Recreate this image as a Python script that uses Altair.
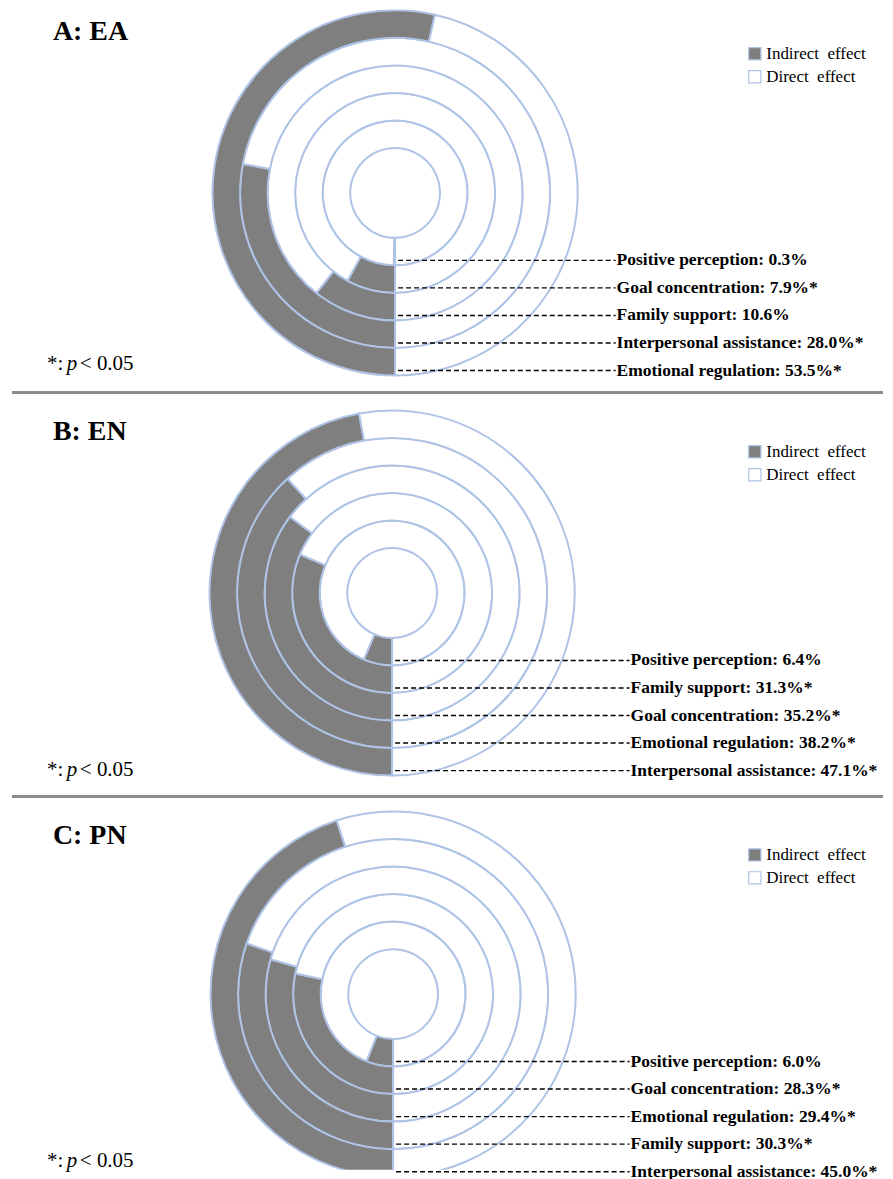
import math
import altair as alt
import pandas as pd

# ---------------- data ----------------
panel_titles = ["A: EA", "B: EN", "C: PN"]

# rings listed from innermost to outermost
labels_A = ["Positive perception", "Goal concentration", "Family support",
            "Interpersonal assistance", "Emotional regulation"]
values_A = [0.3, 7.9, 10.6, 28.0, 53.5]
sig_A = [False, True, False, True, True]

labels_B = ["Positive perception", "Family support", "Goal concentration",
            "Emotional regulation", "Interpersonal assistance"]
values_B = [6.4, 31.3, 35.2, 38.2, 47.1]
sig_B = [False, True, True, True, True]

labels_C = ["Positive perception", "Goal concentration", "Emotional regulation",
            "Family support", "Interpersonal assistance"]
values_C = [6.0, 28.3, 29.4, 30.3, 45.0]
sig_C = [False, True, True, True, True]

effects = ["Indirect\u00a0 effect", "Direct\u00a0 effect"]
note_parts = ["*:", "p", "< 0.05"]

# ---------------- styles ----------------
GRAY = "#7f7f7f"
RING = "#afc3e6"
SERIF = "Liberation Serif"
W = 877


def panel(title, labels, values, sig, cx, cy, label_x, h, title_y,
          legend_y, note_y, separator):
    arc_rows = []
    for i, v in enumerate(values):
        arc_rows.append({"ring": i, "r0": i, "r1": i + 1, "t0": 0.0, "t1": v,
                         "effect": effects[0]})
        arc_rows.append({"ring": i, "r0": i, "r1": i + 1, "t0": v, "t1": 100.0,
                         "effect": effects[1]})
    arc_df = pd.DataFrame(arc_rows)

    lab_df = pd.DataFrame({
        "pos": [i + 1 for i in range(len(labels))],
        "txt": [f"{l}: {v:.1f}%" + ("*" if s else "")
                for l, v, s in zip(labels, values, sig)],
    })

    arcs = alt.Chart(arc_df).mark_arc(stroke=RING, strokeWidth=2, clip=True).encode(
        theta=alt.Theta("t0:Q", stack=None,
                        scale=alt.Scale(domain=[0, 100],
                                        range=[math.pi, 3 * math.pi])),
        theta2="t1:Q",
        radius=alt.Radius("r1:Q", scale=alt.Scale(type="linear", zero=False,
                                                  domain=[0, 5], range=[45, 183])),
        radius2="r0:Q",
        fill=alt.Fill("effect:N",
                      scale=alt.Scale(domain=effects, range=[GRAY, "#ffffff"]),
                      legend=alt.Legend(orient="none", legendX=740, legendY=legend_y,
                                        title=None, symbolType="square",
                                        symbolSize=150, symbolStrokeColor=RING,
                                        symbolStrokeWidth=1.2,
                                        labelFont=SERIF, labelFontSize=17,
                                        labelColor="black", labelOffset=3,
                                        rowPadding=4)),
        x=alt.value(cx), y=alt.value(cy),
    )

    yscale = alt.Scale(domain=[0, 5], range=[cy + 40, cy + 178])
    rules = alt.Chart(lab_df).mark_rule(strokeDash=[5, 3], color="black",
                                        strokeWidth=1.4).encode(
        x=alt.value(cx + 3), x2=alt.value(label_x - 1),
        y=alt.Y("pos:Q", scale=yscale, axis=None),
    )
    texts = alt.Chart(lab_df).mark_text(align="left", baseline="middle", font=SERIF,
                                        fontSize=17.5, fontWeight="bold",
                                        color="black").encode(
        x=alt.value(label_x), y=alt.Y("pos:Q", scale=yscale, axis=None),
        text="txt:N",
    )

    ttl = alt.Chart(pd.DataFrame({"t": [title]})).mark_text(
        align="left", baseline="alphabetic", font=SERIF, fontSize=28,
        fontWeight="bold", color="black").encode(
        text="t:N", x=alt.value(45), y=alt.value(title_y))

    note_x = [39, 59, 72]
    note_styles = ["normal", "italic", "normal"]
    notes = []
    for part, nx, st in zip(note_parts, note_x, note_styles):
        notes.append(alt.Chart(pd.DataFrame({"t": [part]})).mark_text(
            align="left", baseline="alphabetic", font=SERIF, fontSize=21,
            fontStyle=st, color="black").encode(
            text="t:N", x=alt.value(nx), y=alt.value(note_y)))

    layers = [arcs, rules, texts, ttl] + notes
    if separator:
        sep = alt.Chart(pd.DataFrame({"a": [0]})).mark_rule(
            color="#8c8c8c", strokeWidth=3).encode(
            x=alt.value(4), x2=alt.value(W), y=alt.value(h - 2))
        layers.append(sep)

    return alt.layer(*layers).properties(width=W, height=h)


pA = panel(panel_titles[0], labels_A, values_A, sig_A, cx=388, cy=184, label_x=610,
           h=386, title_y=31, legend_y=36, note_y=361, separator=True)
pB = panel(panel_titles[1], labels_B, values_B, sig_B, cx=385, cy=199, label_x=624,
           h=405, title_y=46, legend_y=49, note_y=382, separator=True)
pC = panel(panel_titles[2], labels_C, values_C, sig_C, cx=386, cy=196, label_x=624,
           h=372, title_y=46, legend_y=48, note_y=369, separator=False)

chart = alt.vconcat(pA, pB, pC, spacing=0).resolve_legend(
    fill="independent").properties(padding=0).configure_view(stroke=None)

chart.save("out.html", embed_options={"renderer": "svg", "actions": False})
